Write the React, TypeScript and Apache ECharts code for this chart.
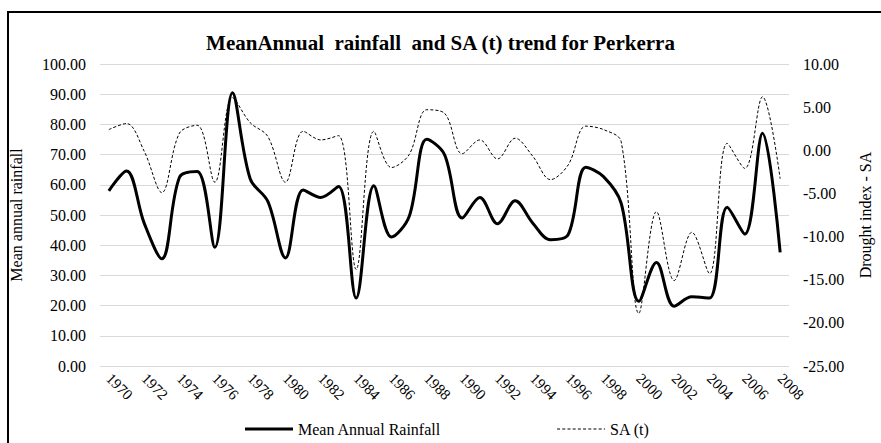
import React, { useEffect, useRef } from "react";
import * as echarts from "echarts";

const years: string[] = [
  "1970","1971","1972","1973","1974","1975","1976","1977","1978","1979",
  "1980","1981","1982","1983","1984","1985","1986","1987","1988","1989",
  "1990","1991","1992","1993","1994","1995","1996","1997","1998","1999",
  "2000","2001","2002","2003","2004","2005","2006","2007","2008",
];

const meanAnnualRainfall: number[] = [
  58.0, 64.6, 47.3, 35.5, 62.5, 64.4, 39.3, 90.5, 62.0, 54.5,
  35.8, 58.3, 55.8, 59.4, 22.5, 59.7, 42.7, 49.5, 75.1, 70.0,
  49.0, 55.8, 47.1, 54.7, 47.3, 41.8, 43.5, 65.8, 62.7, 53.9,
  21.4, 34.3, 19.8, 22.9, 22.5, 52.6, 43.7, 77.1, 37.6,
];

const saIndex: number[] = [
  2.4, 3.1, -0.1, -4.9, 2.0, 2.9, -3.7, 6.1, 3.2, 1.6,
  -3.7, 2.2, 1.2, 1.7, -13.8, 2.2, -2.0, -0.5, 4.7, 4.3,
  -0.4, 1.2, -1.0, 1.4, -0.7, -3.4, -1.7, 2.8, 2.4, 1.0,
  -18.9, -7.1, -15.1, -9.5, -14.3, 0.8, -2.1, 6.2, -3.3,
];

const FONT = "'Liberation Serif', 'Times New Roman', serif";

function dashedIcon(width: number, dash: number, gap: number): string {
  let d = "path://";
  for (let x = 0; x < width; x += dash + gap) {
    const w = Math.min(dash, width - x);
    d += `M${x},0 L${x + w},0 L${x + w},1 L${x},1 Z `;
  }
  return d.trim();
}

export default function App() {
  const ref = useRef<HTMLDivElement>(null);
  useEffect(() => {
    if (!ref.current) return;
    const chart = echarts.init(ref.current, undefined, { renderer: "svg" });
    chart.setOption({
      animation: false,
      backgroundColor: "#ffffff",
      textStyle: { fontFamily: FONT, color: "#000" },
      title: {
        text: "MeanAnnual  rainfall  and SA (t) trend for Perkerra",
        left: "center",
        top: 27,
        textStyle: { fontFamily: FONT, fontSize: 21, fontWeight: "bold", color: "#000" },
      },
      graphic: [
        {
          type: "rect",
          shape: { x: 8, y: 12, width: 900, height: 460 },
          style: { fill: "none", stroke: "#000", lineWidth: 2 },
          silent: true,
        },
      ],
      legend: {
        bottom: 1,
        left: 240,
        itemWidth: 48,
        itemHeight: 10,
        itemGap: 116,
        textStyle: { fontFamily: FONT, fontSize: 16, color: "#000" },
        data: [
          { name: "Mean Annual Rainfall", icon: "path://M0,0 L48,0 L48,3 L0,3 Z" },
          { name: "SA (t)", icon: dashedIcon(48, 3, 2.2) },
        ],
      },
      grid: { left: 92, right: 83, top: 64, bottom: 77, containLabel: false },
      xAxis: {
        type: "category",
        data: years,
        boundaryGap: true,
        axisLine: { show: false },
        axisTick: { show: false },
        axisLabel: {
          interval: 1,
          rotate: -45,
          fontFamily: FONT,
          fontSize: 15,
          color: "#000",
          margin: 10,
        },
      },
      yAxis: [
        {
          type: "value",
          min: 0,
          max: 100,
          interval: 10,
          name: "Mean annual rainfall",
          nameLocation: "middle",
          nameGap: 76,
          nameRotate: 90,
          nameTextStyle: { fontFamily: FONT, fontSize: 16, color: "#000" },
          axisLine: { show: false },
          axisTick: { show: false },
          splitLine: { lineStyle: { color: "#d9d9d9", width: 1 } },
          axisLabel: {
            formatter: (v: number) => v.toFixed(2),
            fontFamily: FONT,
            fontSize: 16,
            color: "#000",
            margin: 14,
          },
        },
        {
          type: "value",
          min: -25,
          max: 10,
          interval: 5,
          position: "right",
          name: "Drought index - SA",
          nameLocation: "middle",
          nameGap: 68,
          nameRotate: 90,
          nameTextStyle: { fontFamily: FONT, fontSize: 16, color: "#000" },
          axisLine: { show: false },
          axisTick: { show: false },
          splitLine: { show: false },
          axisLabel: {
            formatter: (v: number) => v.toFixed(2),
            fontFamily: FONT,
            fontSize: 16,
            color: "#000",
            margin: 14,
          },
        },
      ],
      series: [
        {
          name: "Mean Annual Rainfall",
          type: "line",
          yAxisIndex: 0,
          data: meanAnnualRainfall,
          smooth: 0.35,
          showSymbol: false,
          symbol: "none",
          lineStyle: { color: "#000", width: 3 },
          itemStyle: { color: "#000" },
        },
        {
          name: "SA (t)",
          type: "line",
          yAxisIndex: 1,
          data: saIndex,
          smooth: 0.35,
          showSymbol: false,
          symbol: "none",
          lineStyle: { color: "#000", width: 1, type: [3, 2] },
          itemStyle: { color: "#000" },
        },
      ],
    });
    return () => chart.dispose();
  }, []);
  return (
    <div
      ref={ref}
      style={{ position: "fixed", left: 0, top: 0, width: 881, height: 443 }}
    />
  );
}
